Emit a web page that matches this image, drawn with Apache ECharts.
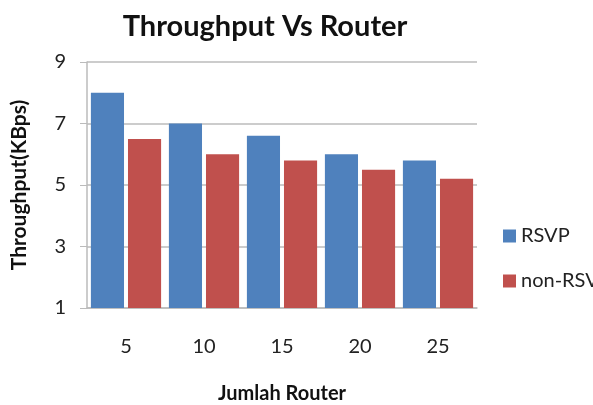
<!DOCTYPE html>
<html><head><meta charset="utf-8">
<script src="https://cdn.jsdelivr.net/npm/echarts@6/dist/echarts.min.js"></script>
<style>html,body{margin:0;padding:0;background:#fff}#c{width:593px;height:405px}</style>
</head><body><div id="c"></div>
<script>
var categories = ['5','10','15','20','25'];
var rsvp = [8, 7, 6.6, 6, 5.8];
var nonRsvp = [6.5, 6, 5.8, 5.5, 5.2];
var seriesNames = ['RSVP','non-RSVP'];
var yTicks = [1,3,5,7,9];

var chart = echarts.init(document.getElementById('c'));
var font = 'Lato';
chart.setOption({
  animation:false,
  title:{text:'Throughput Vs Router', left:260, top:7, textAlign:'center',
    textStyle:{fontFamily:font, fontSize:29, fontWeight:'bold', color:'#111'}},
  legend:{orient:'vertical', left:498, top:221, itemGap:25, itemWidth:13, itemHeight:13,
    icon:'rect', textStyle:{fontFamily:font, fontSize:20, color:'#222'},
    data:seriesNames},
  grid:{left:87, right:116, top:62, bottom:97, containLabel:false, outerBoundsMode:'none'},
  xAxis:{type:'category', data:categories, name:'Jumlah Router', nameLocation:'middle', nameGap:76,
    nameTextStyle:{fontFamily:font, fontSize:20, fontWeight:'bold', color:'#111'},
    axisLine:{lineStyle:{color:'#bbb', width:1.5}}, axisTick:{show:false},
    axisLabel:{fontFamily:font, fontSize:20, color:'#222', margin:29}},
  yAxis:{type:'value', min:1, max:9, interval:2, name:'Throughput(KBps)', nameLocation:'middle', nameGap:57,
    nameTextStyle:{fontFamily:font, fontSize:21, fontWeight:'bold', color:'#111'},
    axisLine:{show:true, lineStyle:{color:'#bbb', width:1.5}},
    axisTick:{show:true, length:7, lineStyle:{color:'#bbb'}},
    splitLine:{lineStyle:{color:'#bbb', width:1.5}},
    axisLabel:{fontFamily:font, fontSize:20, color:'#222', margin:21,
      formatter:function(v){return yTicks.indexOf(v)>=0?String(v):'';}}},
  series:[
    {name:seriesNames[0], type:'bar', data:rsvp, barGap:'12%', barCategoryGap:'10%',
      itemStyle:{color:'#4F81BD'}},
    {name:seriesNames[1], type:'bar', data:nonRsvp, itemStyle:{color:'#C0504D'}}
  ]
});
</script></body></html>
